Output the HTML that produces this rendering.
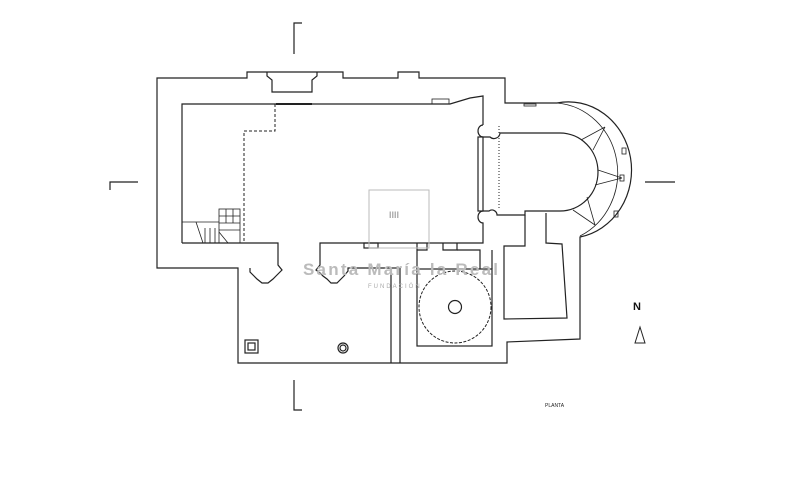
<!DOCTYPE html>
<html><head><meta charset="utf-8"><style>html,body{margin:0;padding:0;background:#fff}svg{display:block}</style></head>
<body>
<svg width="800" height="485" viewBox="0 0 800 485" xmlns="http://www.w3.org/2000/svg">
<g fill="none" stroke="#222" stroke-width="1.2">
<!-- crosshair marks -->
<polyline points="302,23 294,23 294,54"/>
<polyline points="138,182 110,182 110,190"/>
<polyline points="645,182 675,182"/>
<polyline points="294,380 294,410 302,410"/>
<!-- outer outline -->
<path d="M157,78 H247 V72 H343 V78 H398 V72 H419 V78 H505 V103 H557 A62 67 0 0 1 580,237 V339 L507,342 V363 H238 V268 H157 Z"/>
<!-- portal -->
<polyline points="267,72 267,76 272,80 272,92 312,92 312,80 317,76 317,72"/>
<!-- nave -->
<path d="M182,243 V104 H450 L470,98 L483,96 V125"/>
<path d="M483,125 a5,6 0 0 0 0,12 H490 a6,6 0 0 0 10,-4 H560 A38 39 0 0 1 560,211 H525 V215 L497,215 a5,5 0 0 0 -8,-4 H483 a5,6 0 0 0 0,12 V243 H426"/>
<rect x="478" y="137" width="5" height="74"/>
<path d="M182,243 H278 V265 L282,270 L279,273 L276,276 L273,279 L268,283 L262,283 L257,279 L254,276 L250,272 L250,268"/>
<path d="M426,243 H320 V265 L316,270 L320,273 L323,276 L327,279 L331,283 L337,283 L341,279 L344,276 L348,271 L348,268 H391 V363"/>
<line x1="400" y1="268" x2="400" y2="363"/>
<line x1="391" y1="268" x2="400" y2="268"/>
<rect x="364" y="243" width="14" height="5"/>
<!-- circle room -->
<path d="M417,243 V250 H427 V243 M443,243 V250 H457 V243 M417,250 V269"/>
<rect x="417" y="269" width="75" height="77"/>
<path d="M492,269 V250 M457,250 H480 V269"/>
<circle cx="455" cy="307" r="36" stroke-dasharray="3,1.5" stroke-width="1"/>
<circle cx="455" cy="307" r="6.5"/>
<!-- right room -->
<path d="M546,213 V243 L562,244 L567,318 L504,319 V246 H525 V215"/>
<!-- apse details -->
<path d="M557,103 A66 70 0 0 1 580,236" stroke-width="0.8"/>
<line x1="581" y1="140" x2="605" y2="127" stroke-width="0.8"/>
<line x1="593" y1="150" x2="605" y2="127" stroke-width="0.8"/>
<line x1="598" y1="170" x2="622" y2="178" stroke-width="0.8"/>
<line x1="595" y1="185" x2="622" y2="178" stroke-width="0.8"/>
<line x1="587" y1="197" x2="595" y2="225" stroke-width="0.8"/>
<line x1="573" y1="210" x2="595" y2="225" stroke-width="0.8"/>
<rect x="620" y="175" width="4" height="6" stroke-width="0.8"/>
<rect x="622" y="148" width="4" height="6" stroke-width="0.8"/>
<rect x="614" y="211" width="4" height="6" stroke-width="0.8"/>
<rect x="524" y="104" width="12" height="2" stroke-width="0.8"/>
<rect x="432" y="99" width="17" height="5" stroke-width="0.8"/>
<!-- pillars -->
<rect x="245" y="340" width="13" height="13"/>
<rect x="248" y="343" width="7" height="7"/>
<circle cx="343" cy="348" r="5"/><circle cx="343" cy="348" r="3"/>
<!-- dashed -->
<polyline points="275,104 275,131 244,131 244,243" stroke-dasharray="3,2" stroke-width="1"/>
<line x1="276" y1="104" x2="312" y2="104" stroke-width="2"/>
<line x1="499" y1="126" x2="499" y2="210" stroke-dasharray="1,2" stroke-width="1"/>
<!-- stairs -->
<rect x="219" y="209" width="21" height="34" stroke-width="0.8"/>
<path d="M219,216 H240 M219,223 H240 M219,230 H240 M226,209 V223 M233,209 V223 M182,222 H219 M196,222 L203,243 M205,228 V243 M210,228 V243 M215,228 V243 M219,232 L228,243" stroke-width="0.8"/>
</g>
<!-- watermark -->
<rect x="369" y="190" width="60" height="58" fill="none" stroke="#bbb" stroke-width="1"/>
<text x="389" y="218" font-family="Liberation Sans, sans-serif" font-size="9" fill="#aaa" font-weight="bold">IIII</text>
<text x="303" y="275" font-family="Liberation Sans, sans-serif" font-size="17" font-weight="bold" fill="#bbb" textLength="195">Santa María la Real</text>
<text x="368" y="288" font-family="Liberation Sans, sans-serif" font-size="6" fill="#aaa" letter-spacing="2">FUNDACIÓN</text>
<!-- north -->
<text x="633" y="310" font-family="Liberation Sans, sans-serif" font-size="11" font-weight="bold" fill="#111">N</text>
<polygon points="635,343 640,327 645,343" fill="none" stroke="#222" stroke-width="1"/>
<text x="545" y="407" font-family="Liberation Sans, sans-serif" font-size="5" fill="#222">PLANTA</text>
</svg>
</body></html>
